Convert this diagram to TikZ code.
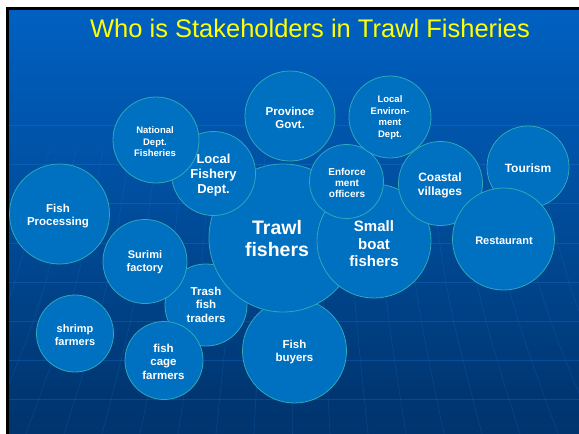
\documentclass[tikz,border=0pt]{standalone}
\usepackage{fontspec}
\setmainfont{Liberation Sans}
\definecolor{bubfill}{RGB}{0,112,192}
\definecolor{bubedge}{RGB}{48,168,184}
\definecolor{titleyellow}{RGB}{255,255,0}
\definecolor{gridline}{RGB}{40,130,230}
\definecolor{bgA}{RGB}{0,38,82}
\definecolor{bgB}{RGB}{0,55,115}
\definecolor{bgC}{RGB}{0,80,162}
\definecolor{bgD}{RGB}{0,102,204}
\pgfdeclareverticalshading{slidebg}{100bp}{color(0bp)=(bgA); color(30bp)=(bgB); color(55bp)=(bgC); color(82bp)=(bgD); color(100bp)=(bgD)}
\begin{document}
\begin{tikzpicture}[x=1pt,y=-1pt,
  bubble/.style={circle, draw=bubedge, fill=bubfill, line width=0.8pt, inner sep=0pt, minimum size=#1},
  lbl/.style={text=white, align=center, inner sep=0pt}]
\useasboundingbox (0,0) rectangle (579,434);
% page and slide frame
\fill[white] (0,0) rectangle (579,434);
\fill[black] (6,7) rectangle (579,434);
\shade[shading=slidebg] (9,10) rectangle (579,434);
% faint perspective grid
\begin{scope}
\clip (9,10) rectangle (579,434);
\foreach \yy in {125,164,203,243,282,321,360,399}
  \draw[gridline, opacity=0.25, line width=0.7pt] (9,\yy) -- (579,\yy);
\foreach \k in {-9,...,9}
  \draw[gridline, opacity=0.2, line width=0.6pt]
    (292+\k*27,150) .. controls (292+\k*31,300) .. (292+\k*38,434);
\end{scope}
% title
\node[text=titleyellow, font=\fontsize{25.5}{28}\selectfont, anchor=base, inner sep=0pt] (title) at (310,37) {Who is Stakeholders in Trawl Fisheries};
% stakeholder bubbles, back to front
\node[bubble=104pt] (buyers) at (294.5,351) {};
\node[bubble=82pt] (trash) at (206,305) {};
\node[bubble=148pt] (trawl) at (283,238) {};
\node[bubble=114pt] (smallboat) at (374,241) {};
\node[bubble=84pt] (coastal) at (440.5,183.5) {};
\node[bubble=82pt] (tourism) at (528,167) {};
\node[bubble=102pt] (restaurant) at (503.5,239) {};
\node[bubble=74pt] (enforce) at (346.5,181.5) {};
\node[bubble=84pt] (localfish) at (213.5,173.5) {};
\node[bubble=86pt] (national) at (156,140) {};
\node[bubble=90pt] (province) at (290,116) {};
\node[bubble=82pt] (localenv) at (390,117) {};
\node[bubble=100pt] (fishproc) at (59.5,214) {};
\node[bubble=84pt] (surimi) at (145,261.5) {};
\node[bubble=77pt] (shrimp) at (75,333.5) {};
\node[bubble=78pt] (cage) at (164,360.5) {};
% labels
\node[lbl, font=\fontsize{11.5}{13}\selectfont\bfseries] (buyers-t) at (294.5,352.5) {Fish\\buyers};
\node[lbl, font=\fontsize{11.5}{13.5}\selectfont\bfseries] (trash-t) at (206,304.5) {Trash\\fish\\traders};
\node[lbl, font=\fontsize{19.5}{22}\selectfont\bfseries] (trawl-t) at (277,239) {Trawl\\fishers};
\node[lbl, font=\fontsize{15}{17.5}\selectfont\bfseries] (smallboat-t) at (374,244) {Small\\boat\\fishers};
\node[lbl, font=\fontsize{12}{14}\selectfont\bfseries] (coastal-t) at (440,185) {Coastal\\villages};
\node[lbl, font=\fontsize{12}{14}\selectfont\bfseries] (tourism-t) at (528,168.5) {Tourism};
\node[lbl, font=\fontsize{11}{13}\selectfont\bfseries] (restaurant-t) at (504,240.5) {Restaurant};
\node[lbl, font=\fontsize{10}{11}\selectfont\bfseries] (enforce-t) at (347,183) {Enforce\\ment\\officers};
\node[lbl, font=\fontsize{13}{15}\selectfont\bfseries] (localfish-t) at (213.5,175) {Local\\Fishery\\Dept.};
\node[lbl, font=\fontsize{9.5}{11.5}\selectfont\bfseries] (national-t) at (155,142) {National\\Dept.\\Fisheries};
\node[lbl, font=\fontsize{11.5}{13}\selectfont\bfseries] (province-t) at (290,117.5) {Province\\Govt.};
\node[lbl, font=\fontsize{9.5}{11.5}\selectfont\bfseries] (localenv-t) at (390,117.5) {Local\\Environ-\\ment\\Dept.};
\node[lbl, font=\fontsize{11.5}{13}\selectfont\bfseries] (fishproc-t) at (58,216) {Fish\\Processing};
\node[lbl, font=\fontsize{11}{13}\selectfont\bfseries] (surimi-t) at (145,262.5) {Surimi\\factory};
\node[lbl, font=\fontsize{11}{13}\selectfont\bfseries] (shrimp-t) at (75,335.5) {shrimp\\farmers};
\node[lbl, font=\fontsize{11.5}{13.5}\selectfont\bfseries] (cage-t) at (163.5,361.5) {fish\\cage\\farmers};
\end{tikzpicture}
\end{document}
